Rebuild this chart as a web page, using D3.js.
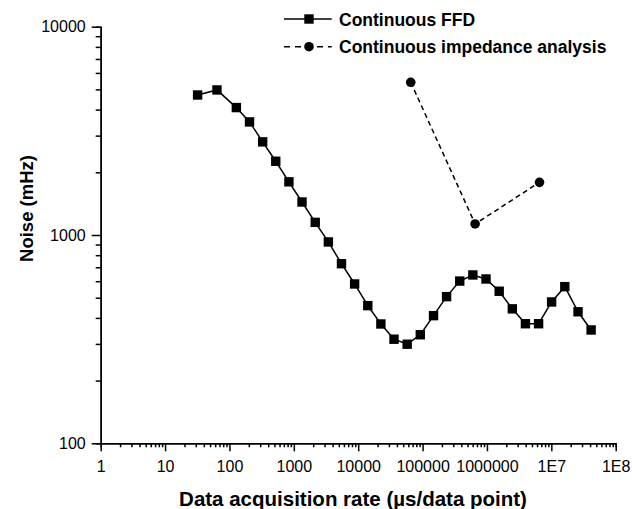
<!DOCTYPE html>
<html>
<head>
<meta charset="utf-8">
<script src="https://cdn.jsdelivr.net/npm/d3@7"></script>
<style>
  body { margin: 0; background: #fff; }
  svg { font-family: "Liberation Sans", Arial, sans-serif; }
  .axis path, .axis line { stroke: #000; stroke-width: 1.5px; }
  .axis text { font-size: 16px; fill: #000; }
  .title { font-weight: bold; }
  .legend text { font-size: 17.5px; font-weight: bold; }
</style>
</head>
<body>
<svg id="chart" width="632" height="509"></svg>
<script>
// data
let ffd_rate = [32, 64, 128, 205, 328, 524, 839, 1340, 2150, 3440, 5500, 8800, 14100, 22500, 36000,
                57600, 92200, 148000, 236000, 378000, 604000, 967000, 1550000, 2480000, 3960000,
                6340000, 10100000, 16200000, 26000000, 41500000]
let ffd_noise = [4700, 4970, 4090, 3490, 2800, 2260, 1800, 1440, 1150, 926, 728, 582, 458, 374, 316,
                 299, 332, 410, 506, 601, 643, 615, 537, 442, 375, 375, 477, 565, 428, 350]
let imp_rate = [65500, 655000, 6550000]
let imp_noise = [5410, 1130, 1790]

let x_ticks = [1, 10, 100, 1000, 10000, 100000, 1000000, 1e7, 1e8]
let x_tick_labels = ["1", "10", "100", "1000", "10000", "100000", "1000000", "1E7", "1E8"]
let y_ticks = [100, 1000, 10000]
let y_tick_labels = ["100", "1000", "10000"]
let series_names = ["Continuous FFD", "Continuous impedance analysis"]

let width = 632,
    height = 509
let margins = {left: 100.7, right: 16.3, top: 26.7, bottom: 65.7}

function make_scales() {
  return {
    x: d3.scaleLog()
         .domain([1, 1e8])
         .range([margins.left, width - margins.right]),
    y: d3.scaleLog()
         .domain([100, 10000])
         .range([height - margins.bottom, margins.top])
  }
}

function minor_ticks(lo, hi) {
  let out = []
  for (let p = lo; p < hi; p *= 10) {
    for (let k = 2; k <= 9; k++) out.push(p * k)
  }
  return out
}

function add_axes(svg, scales) {
  let x_minor = d3.axisBottom(scales.x).tickValues(minor_ticks(1, 1e8)).tickSize(4).tickFormat("")
  let y_minor = d3.axisLeft(scales.y).tickValues(minor_ticks(100, 10000)).tickSize(5).tickFormat("")

  svg.append("g").attr("class", "axis")
    .attr("transform", `translate(0, ${height - margins.bottom})`)
    .call(x_minor)
  svg.append("g").attr("class", "axis")
    .attr("transform", `translate(${margins.left}, 0)`)
    .call(y_minor)

  let x_axis = d3.axisBottom(scales.x)
        .tickValues(x_ticks)
        .tickSize(8)
        .tickPadding(9)
        .tickSizeOuter(0)
        .tickFormat((d, i) => x_tick_labels[i]),
      y_axis = d3.axisLeft(scales.y)
        .tickValues(y_ticks)
        .tickSize(9)
        .tickPadding(6)
        .tickSizeOuter(0)
        .tickFormat((d, i) => y_tick_labels[i])

  svg.append("g").attr("class", "axis")
    .attr("transform", `translate(0, ${height - margins.bottom})`)
    .call(x_axis)
  svg.append("g").attr("class", "axis")
    .attr("transform", `translate(${margins.left}, 0)`)
    .call(y_axis)

  svg.append("text").attr("class", "title")
    .attr("text-anchor", "middle")
    .attr("font-size", 20.5)
    .attr("transform", `translate(353, 505.5)`)
    .text("Data acquisition rate (\u00b5s/data point)")
  svg.append("text").attr("class", "title")
    .attr("text-anchor", "middle")
    .attr("font-size", 18.5)
    .attr("transform", `translate(33, 208.5)rotate(-90)`)
    .text("Noise (mHz)")
}

function draw_series(svg, scales) {
  let ffd = ffd_rate.map((r, i) => ({rate: r, noise: ffd_noise[i]}))
  let imp = imp_rate.map((r, i) => ({rate: r, noise: imp_noise[i]}))

  let path_generator = d3.line()
    .x(d => scales.x(d.rate))
    .y(d => scales.y(d.noise))

  svg.append("path")
    .attr("d", path_generator(ffd))
    .attr("fill", "none")
    .attr("stroke", "#000")
    .attr("stroke-width", 1.5)

  svg.append("path")
    .attr("d", path_generator(imp))
    .attr("fill", "none")
    .attr("stroke", "#000")
    .attr("stroke-width", 1.5)
    .attr("stroke-dasharray", "5,3.5")

  svg.append("g").selectAll("rect")
    .data(ffd).enter()
    .append("rect")
    .attr("x", d => scales.x(d.rate) - 4.7)
    .attr("y", d => scales.y(d.noise) - 4.7)
    .attr("width", 9.4)
    .attr("height", 9.4)
    .attr("fill", "#000")

  svg.append("g").selectAll("circle")
    .data(imp).enter()
    .append("circle")
    .attr("cx", d => scales.x(d.rate))
    .attr("cy", d => scales.y(d.noise))
    .attr("r", 4.8)
    .attr("fill", "#000")
}

function legend(svg) {
  let g = svg.append("g").attr("class", "legend")
  let rows = g.selectAll("g")
    .data(series_names).enter()
    .append("g")
    .attr("transform", (d, i) => `translate(284, ${19 + i * 27.7})`)

  rows.append("line")
    .attr("x1", 0).attr("x2", 47.7)
    .attr("stroke", "#000")
    .attr("stroke-width", 1.5)
    .attr("stroke-dasharray", (d, i) => i == 0 ? null : "6,5")
  rows.filter((d, i) => i == 0).append("rect")
    .attr("x", 25 - 4.7).attr("y", -4.7)
    .attr("width", 9.4).attr("height", 9.4)
  rows.filter((d, i) => i == 1).append("circle")
    .attr("cx", 25).attr("r", 4.8)
  rows.append("text")
    .attr("x", 55)
    .attr("y", 6.5)
    .text(d => d)
}

let svg = d3.select("#chart")
let scales = make_scales()
draw_series(svg, scales)
add_axes(svg, scales)
legend(svg)
</script>
</body>
</html>
